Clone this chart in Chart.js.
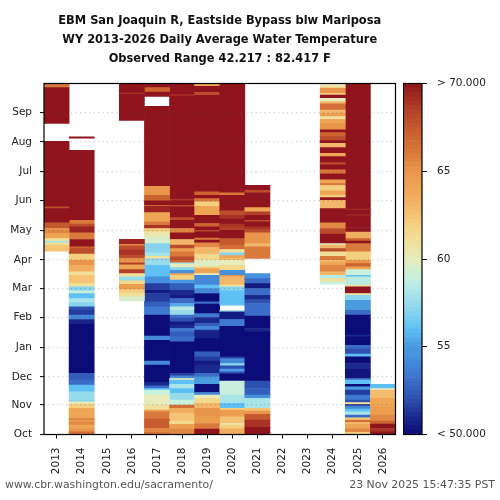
<!DOCTYPE html>
<html><head><meta charset="utf-8">
<script src="https://cdn.jsdelivr.net/npm/chart.js@4"></script>
<style>
html,body{margin:0;padding:0;background:#fff;width:500px;height:500px;overflow:hidden}
canvas{position:absolute;left:0;top:0}
.foot{position:absolute;font:10.9px "DejaVu Sans";color:#555;top:478px;white-space:nowrap}
</style></head><body>
<div style="position:absolute;left:0;top:0;width:500px;height:500px"><canvas id="main" width="500" height="500"></canvas></div>
<div style="position:absolute;left:403px;top:0;width:97px;height:500px"><canvas id="bar" width="97" height="500"></canvas></div>
<div class="foot" style="left:5px">www.cbr.washington.edu/sacramento/</div>
<div class="foot" style="right:5px">23 Nov 2025 15:47:35 PST</div>
<script>
const titleLines = ["EBM San Joaquin R, Eastside Bypass blw Mariposa","WY 2013-2026 Daily Average Water Temperature","Observed Range 42.217 : 82.417 F"];
const years = ["2013","2014","2015","2016","2017","2018","2019","2020","2021","2022","2023","2024","2025","2026"];
const monthNames = ["Oct","Nov","Dec","Jan","Feb","Mar","Apr","May","Jun","Jul","Aug","Sep"];
const monthDays = [0,31,60,91,122,152,182,213,244,274,305,336];
// band edges (day of water year) and the temperature in each band (null = no data)
const d2013=[191.1,197.4,199.8,201.6,204.3,209.5,212.3,214.8,220.7,235.6,237.3,305.7,324.5,361.7,365.1,366];
const t2013=[62.5,61,58,61,64,65.5,65,67.5,70.5,68,70.5,null,70.5,66,70];
const d2014=[0,2.8,6.3,9.8,13.3,15,16.7,21.9,27.2,31.7,34.1,35.8,44.5,51.5,56.7,63.6,115.7,119.9,124.4,129.6,133.1,137.2,141.8,147,149.8,153.9,157.4,166,169.5,176.5,181.7,188,193.9,195.6,203.3,210.2,216.5,219.3,223.4,296.4,308.9,310.3];
const t2014=[66.5,65,64,65.5,64.5,66,64,64,62,60,57,57.5,56,53,52.5,50,50.8,54,51.5,52,57,58,56,59,57,61,62.5,61,63.5,65,62,68,67,70.5,66,69.5,68,66,70.5,null,70];
const d2015=[0,366];
const t2015=[null];
const d2016=[139.3,143.5,147,151.1,156.7,160.2,164.3,167.8,172,176.8,178.9,181.8,183.5,187,192.2,196.7,198.4,203.6,327.6,355,356,366];
const t2016=[59.5,61,62,64.5,61.5,57.5,61,68.5,64,68.5,65,65,68,69,68,65.5,69.5,null,70.5,68.5,70.5];
const d2017=[0,2.2,6.3,16.1,23.7,25.4,30.7,41,46.3,48,50.8,54.3,72.3,76.5,98.3,102.5,124.4,133.1,138.3,147,150.4,157.4,164.3,176.5,181.7,183.1,185.9,189.4,199.1,206,211.3,214.8,218.2,221.7,231.4,238,239,243.6,249.5,258.9,342.2,352.6,357.1,361.7,366];
const t2017=[66.5,65.5,67.3,66,64.5,61,60,59,56,53,51,50,54,50,54,50,53.5,52.5,51.5,50.5,51.5,54.5,56,57.5,57,61,58,57,59.5,60.5,62,69,66,64,69.5,67,70.5,67,65,70.5,null,70.5,67,70.5];
const d2018=[0,6.3,10.5,14,22,27.2,30.7,35.8,42.8,48,52.2,56.7,58.4,61.2,63.6,96.6,101.8,107,110.5,114,117.4,120.9,124.4,129.6,133.1,136.6,141.8,145.2,150.4,157.4,160.9,166,167.8,171.3,174,177.5,178.9,181.7,185.2,190.4,193.9,197.4,203.3,210.2,214.8,223.4,226.2,237.3,239,243.6,245,353,354.4,366];
const t2018=[65.5,64.5,61.5,62.5,63.5,66.5,59,57.5,56,58,56,60,54,51.5,50,53,52.5,53.5,51,50.5,52,53,57.5,58.5,55.5,53,50.5,51,52.5,55,62,64,54.5,57,60,58,67,68,66,64.5,68,63,70.5,65.5,70.5,68,70.5,68,70.5,69,70.5,69,70.5];
const d2019=[0,5.6,11.5,18.5,27.2,32.4,37.6,41,43.8,52.2,60.2,63.6,72.3,76.5,81,86.2,100,107,108.8,112.9,115.7,122,126.1,135.9,138.3,147,152.2,155.7,166,167.8,173,174.8,181.7,188,195,199.8,202.6,204.7,211.3,213,216.5,220,228.6,238,242.5,246,249.5,253,353.7,356.8,363,365.1,366];
const t2019=[70.5,66,64.5,65,63,61.5,60,54,50,55,53,51,50.5,51.5,52.5,50,50.7,51,54,52.5,51,53.5,50,53,50,54,56,54,60,64,62,59.7,61.5,63,65.5,70,66,70.5,68,70.5,67,70.5,64,62,66,70.5,67,70.5,68,70.5,64,70];
const d2020=[0,6.3,9.8,11.5,18.5,25.4,27.2,32.4,41,55.6,63.6,65.4,68.1,71.6,74,79.2,81,112.9,119.9,127.9,129.6,134.8,149.7,153.9,155.7,164.3,166,171.3,176.5,181.7,183.5,186.6,189.4,192.9,197.4,204.3,213,216.5,219.3,225.2,228.6,233.2,249.5,251.9,366];
const t2020=[63.5,62,60.5,62.5,64.5,62,56,58,59,50,52,55,52,57,54,51.5,50,53.5,50.5,58,null,56,57,61,63,65,54.5,61.5,60,63,64,57,61,66.5,67.5,70.5,68.5,69,70.5,69,68,70.5,66,70.5];
const d2021=[0,7.4,15,21,24.4,27.2,37.6,41,48,55.6,107,110.5,123.4,136.6,140.7,145.2,152.2,157.4,162.6,167.8,183.5,195.6,199.1,210.2,213.7,216.5,221.7,223.4,228.6,232.1,236.6,251.9,254.7,259.9];
const t2021=[70.5,69,67.5,65,62.5,58,54.5,52.5,52,50,50.8,50,53,52,51,53,50.5,53,54.5,null,66,63,65,68,69,70.5,68,70.5,68.5,64,70.5,68,70.5];
const d2022=[0,366];
const t2022=[null];
const d2023=[0,366];
const t2023=[null];
const d2024=[156.7,159.1,162.6,166,169.5,176.5,180,181.7,185.9,190.4,193.9,197.4,199.1,208.9,214.8,220.7,235.6,244.3,247,249.5,254,259.6,262,265.5,271.7,275.9,281.1,283.5,289.8,293.3,299.2,303.7,306.5,310.6,314.8,317.6,324.5,328.7,331.5,335,338.4,344.7,347.1,350.6,354,355.8,361,362,366];
const t2024=[59,61,58.5,63,65.5,64,62.5,66,61,68,63,60,70.5,68,65.5,70.5,63,70,62,64,62,66,64,70,66,70,68,70,64,70,63,70,68,67,70,65,64,61,64.5,63,66.5,63,60,70,62,65,62,60.5];
const d2025=[0,2.2,6.3,10.5,12.6,15,17.4,20.2,23.7,26.5,29.9,31.3,33.4,35.8,41,46.3,49.7,52.2,56.7,58.4,68.8,74,81,83.8,89.7,93,101.8,103.6,124.4,129.6,140,145.2,147,153.9,155.7,164.3,166,172,174.8,178.2,181.7,190.4,199.1,201.6,204.3,211,215.8,228,229,234,235,366];
const t2025=[62,65.5,64,63,66.5,62,53,58,56,54,50.5,61,52,53.5,51.5,55,50,56,53,50.3,51,50,56,52,53,50,51,50,53,55,57,61,70.5,61,58.5,56,59,64,67,65,62,66,70.5,67,63.5,70.5,70.5,69,70.5,69,70.5];
const d2026=[0,2.8,6.3,10.8,14,20.2,28.9,37.6,46.3,48,52.2];
const t2026=[70.5,69,70,67,65.5,64.5,64,62.8,60,56];
const allDays=[d2013,d2014,d2015,d2016,d2017,d2018,d2019,d2020,d2021,d2022,d2023,d2024,d2025,d2026];
const allTemps=[t2013,t2014,t2015,t2016,t2017,t2018,t2019,t2020,t2021,t2022,t2023,t2024,t2025,t2026];
const scaleTemps=[50,51,52,53,54,55,56,57,58,59,60,61,62,63,64,65,66,67,68,69,70];
const scaleColors=["#0c0c78","#1a2a8c","#2e50b0","#3a6cc8","#4488d8","#4a9ae0","#5ec0f4","#88d4ee","#a8e4e8","#c8f0dc","#e8ebbc","#f0e09c","#f5cf80","#f2b76a","#eea654","#e9964c","#d97a3c","#cc6430","#bb4c2c","#a83224","#8f141e"];

function colorOf(v){
  const c=Math.max(50,Math.min(70,v));
  const i=Math.min(scaleTemps.length-2,Math.floor(c-50));
  const f=(c-scaleTemps[i])/(scaleTemps[i+1]-scaleTemps[i]);
  const hex=s=>[1,3,5].map(k=>parseInt(s.substr(k,2),16));
  const a=hex(scaleColors[i]),b=hex(scaleColors[i+1]);
  return "rgb("+a.map((x,k)=>Math.round(x+(b[k]-x)*f)).join(",")+")";
}
const maxBands=Math.max(...allTemps.map(t=>t.length));
const datasets=[];
for(let i=0;i<maxBands;i++){
  datasets.push({
    data:years.map((y,k)=>(allTemps[k][i]!=null)?[allDays[k][i],allDays[k][i+1]]:null),
    backgroundColor:years.map((y,k)=>(allTemps[k][i]!=null)?colorOf(allTemps[k][i]):"rgba(0,0,0,0)"),
    borderWidth:0,grouped:false,barPercentage:1,categoryPercentage:1
  });
}
const frame={id:"frame",afterDraw(ch){
  const a=ch.chartArea,c=ch.ctx;c.save();c.strokeStyle="#000";c.lineWidth=1.2;
  c.strokeRect(a.left,a.top,a.right-a.left,a.bottom-a.top);c.restore();
}};
const tickFont={family:"DejaVu Sans",size:10.5};
new Chart(document.getElementById("main"),{
  type:"bar",
  data:{labels:years,datasets},
  plugins:[frame],
  options:{
    responsive:false,animation:false,
    layout:{padding:{left:0,right:104.5,top:0,bottom:0}},
    plugins:{
      legend:{display:false},tooltip:{enabled:false},
      title:{display:true,text:titleLines,fullSize:false,color:"#111",
        font:{family:"DejaVu Sans Condensed",weight:"bold",size:12.7,lineHeight:1.496},
        padding:{top:11,bottom:15.5}}
    },
    scales:{
      x:{grid:{display:true,drawOnChartArea:false,drawTicks:true,tickLength:4,tickColor:"#000",tickWidth:1,offset:false},
        border:{display:false},
        afterFit(s){s.height=65.5;},
        ticks:{minRotation:90,maxRotation:90,autoSkip:false,color:"#222",font:tickFont,padding:9}},
      y:{min:0,max:366,
        afterFit(s){s.width=44;},
        afterBuildTicks(s){s.ticks=monthDays.map(v=>({value:v}));},
        grid:{color:"rgba(60,60,60,0.25)",z:1,tickLength:4,tickColor:"#000",tickWidth:1,lineWidth:1.2,drawTicks:true},
        border:{display:false,dash:[1.2,3.3]},
        ticks:{autoSkip:false,color:"#222",font:tickFont,padding:8,callback(v,i){return monthNames[i];}}}
    }
  }
});
// colour bar
const barSteps=[];for(let v=50;v<70;v+=0.25)barSteps.push(v);
const barLabels={50:"< 50.000",55:"55",60:"60",65:"65",70:"> 70.000"};
new Chart(document.getElementById("bar"),{
  type:"bar",
  data:{labels:[""],datasets:barSteps.map(v=>({data:[[v,v+0.25]],backgroundColor:colorOf(v+0.125),borderWidth:0,grouped:false,barPercentage:1,categoryPercentage:1}))},
  plugins:[frame],
  options:{
    responsive:false,animation:false,
    layout:{padding:{left:0.5,right:0,top:83.5,bottom:65.5}},
    plugins:{legend:{display:false},tooltip:{enabled:false},title:{display:false}},
    scales:{
      x:{display:false},
      y:{position:"right",min:50,max:70,
        afterFit(s){s.width=78;},
        afterBuildTicks(s){s.ticks=[50,55,60,65,70].map(v=>({value:v}));},
        grid:{drawOnChartArea:false,tickLength:5,tickColor:"#000",tickWidth:1},
        border:{display:false},
        ticks:{color:"#222",font:tickFont,padding:10,autoSkip:false,callback(v){return barLabels[v];}}}
    }
  }
});
</script>
</body></html>
